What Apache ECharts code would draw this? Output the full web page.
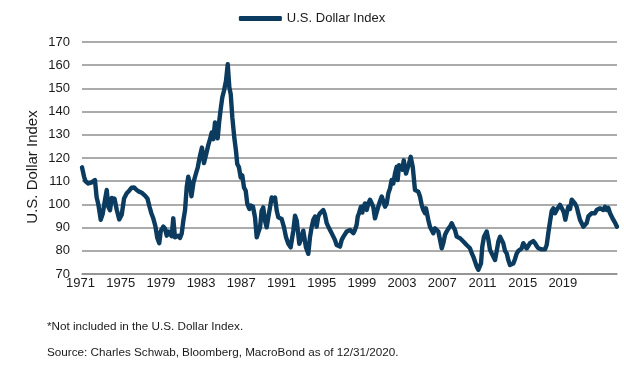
<!DOCTYPE html>
<html><head><meta charset="utf-8">
<script src="https://cdn.jsdelivr.net/npm/echarts@6/dist/echarts.min.js"></script>
<style>html,body{margin:0;padding:0;background:#fff}#c{width:624px;height:367px}</style>
</head><body><div id="c"></div>
<script>
const seriesName = 'U.S. Dollar Index';
const yAxisName = 'U.S. Dollar Index';
const footnote1 = '*Not included in the U.S. Dollar Index.';
const footnote2 = 'Source: Charles Schwab, Bloomberg, MacroBond as of 12/31/2020.';
const yearLabels = ['1971','1975','1979','1983','1987','1991','1995','1999','2003','2007','2011','2015','2019'];

const usd1971to1981 = [[1971.0,116],[1971.19,112],[1971.33,110],[1971.59,109],[1971.91,109.5],[1972.21,110.5],[1972.37,103],[1972.52,100.2],[1972.75,93.4],[1972.93,95.8],
[1973.15,102],[1973.31,106.2],[1973.46,99],[1973.62,97.5],[1973.78,102.8],[1973.93,101.5],[1974.04,102.5],[1974.24,97.8],[1974.48,93.5],[1974.71,95.5],
[1974.93,102.5],[1975.18,104.8],[1975.39,105.8],[1975.64,107.2],[1975.86,107.3],[1976.11,106.2],[1976.33,105.5],[1976.58,105],[1976.89,103.8],[1977.12,102.5],
[1977.31,99],[1977.48,96.2],[1977.66,94],[1977.85,90.8],[1978.04,85.5],[1978.22,83.3],[1978.36,88.5],[1978.60,90.4],[1978.76,89.5],[1978.92,86.5],
[1979.07,88.3],[1979.22,87.5],[1979.38,86.3],[1979.53,94],[1979.69,85.8],[1979.85,85.6],[1980.00,86.5],[1980.16,85.5],[1980.32,87.5],[1980.47,93],
[1980.63,97.5],[1980.79,107.6],[1980.93,111.9],[1981.09,109],[1981.23,103.5],[1981.42,109.5],[1981.63,113],[1981.82,116]];

const usd1982to1995 = [[1982.03,121],[1982.21,124.5],[1982.40,117.8],[1982.62,122],[1982.80,125.5],[1982.96,128],[1983.12,131],[1983.27,128.1],[1983.43,135.3],[1983.59,136],
[1983.68,128.5],[1983.83,136],[1983.96,141],[1984.11,146.1],[1984.27,149],[1984.46,153.3],[1984.62,160.4],[1984.77,150.4],[1984.90,147.5],[1985.05,137.5],
[1985.23,128.9],[1985.39,123.1],[1985.51,117.4],[1985.67,116],[1985.83,111.6],[1985.98,112.5],[1986.14,107.3],[1986.30,105.9],[1986.45,100.2],[1986.64,98],
[1986.79,99.5],[1986.98,99],[1987.17,94.4],[1987.33,85.8],[1987.48,88],[1987.64,90.1],[1987.79,97.3],[1987.94,98.7],[1988.10,93],[1988.26,90.1],
[1988.41,94.4],[1988.57,98.7],[1988.73,103],[1988.88,101.5],[1989.04,103],[1989.20,97.3],[1989.35,94.4],[1989.50,94],[1989.66,93.7],[1989.88,90.1],
[1990.07,85.8],[1990.28,83],[1990.50,81.5],[1990.75,88.7],[1990.91,95.1],[1991.07,93],[1991.31,83],[1991.53,85.8],[1991.68,88.7],[1991.93,81.5],
[1992.15,78.7],[1992.31,86],[1992.47,90.4],[1992.62,93.4],[1992.78,94.8],[1992.93,90.4],[1993.08,94.8],[1993.24,96.2],[1993.40,96.5],[1993.55,97.6],
[1993.71,95.5],[1993.87,91.9],[1994.02,90.4],[1994.18,89],[1994.34,87.5],[1994.49,86.1],[1994.64,84.7],[1994.80,82.5],[1994.95,81.8],[1995.11,81.8],
[1995.27,84.7],[1995.42,86]];

const usd1995to2008 = [[1995.58,86.1],[1995.74,88.3],[1995.89,87.6],[1996.05,89],[1996.21,88.3],[1996.36,87.6],[1996.51,89],[1996.67,91.2],[1996.77,94.8],[1996.89,96.2],
[1997.07,99],[1997.20,96.5],[1997.29,99],[1997.45,100.4],[1997.61,97.6],[1997.76,100.4],[1997.92,102],[1998.07,101.4],[1998.22,99],[1998.38,94],
[1998.54,94.7],[1998.69,99],[1998.85,101.4],[1999.01,103.4],[1999.16,101.4],[1999.32,99],[1999.48,100.4],[1999.63,104.8],[1999.79,106.9],[1999.94,110.5],
[2000.09,109],[2000.25,113.3],[2000.41,116.2],[2000.50,110.5],[2000.63,116.9],[2000.81,117.6],[2000.93,115],[2001.07,119],[2001.19,119.8],[2001.28,113.3],
[2001.44,114],[2001.56,117.6],[2001.72,120.5],[2001.81,119.8],[2001.91,116.2],[2002.03,110.5],[2002.12,106.2],[2002.28,106.2],[2002.43,105.5],[2002.59,103.4],
[2002.75,99.7],[2002.90,97.6],[2003.06,96.2],[2003.15,98.3],[2003.27,97.6],[2003.36,93.4],[2003.52,90.4],[2003.68,90.4],[2003.83,87.6],[2003.99,89.7],
[2004.15,89],[2004.30,88.3],[2004.46,84.7],[2004.62,81.1],[2004.77,83.3],[2004.93,86.9],[2005.08,88.3],[2005.23,89.5],[2005.39,90.4],[2005.55,91.9],
[2005.70,90.4],[2005.86,89],[2006.02,86.1],[2006.17,86.1],[2006.33,85.4],[2006.49,85.4],[2006.64,84],[2006.79,84],[2006.95,82.5],[2007.10,81.8],
[2007.26,81.1],[2007.42,79],[2007.57,77.5],[2007.73,75.4],[2007.89,73.2],[2008.04,71.8],[2008.20,71.8],[2008.29,74.6],[2008.41,81.8],[2008.57,86.1]];

const usd2008to2020 = [[2008.66,86.7],[2008.82,88.3],[2008.97,85],[2009.13,80.4],[2009.29,78.9],[2009.44,77.5],[2009.60,76],[2009.76,80],[2009.91,84],[2010.07,86.1],
[2010.22,86.8],[2010.37,83.3],[2010.53,80],[2010.69,78.9],[2010.84,76],[2011.00,73.9],[2011.16,73.2],[2011.31,74.5],[2011.47,76.5],[2011.63,78.9],
[2011.79,80],[2011.93,80.4],[2012.09,81],[2012.24,83.3],[2012.40,82.5],[2012.56,81],[2012.71,81.5],[2012.87,83.3],[2013.03,82.5],[2013.18,84.2],
[2013.34,83.3],[2013.50,82],[2013.65,81.1],[2013.80,80.8],[2013.96,80.6],[2014.11,80.4],[2014.27,80.6],[2014.43,82.5],[2014.58,87.6],[2014.74,92.6],
[2014.90,97.2],[2015.05,98.3],[2015.21,96.2],[2015.36,97.6],[2015.51,97],[2015.67,99.8],[2015.77,100.4],[2015.93,97.6],[2016.05,96.2],[2016.17,93.4],
[2016.30,96.2],[2016.45,99],[2016.61,98],[2016.77,102],[2016.92,102.6],[2017.07,100.4],[2017.23,99],[2017.38,96.2],[2017.54,93.4],[2017.70,94.2],
[2017.85,90.4],[2018.01,89.7],[2018.17,92],[2018.32,94.8],[2018.48,95.5],[2018.64,96.2],[2018.79,96.5],[2018.94,96.2],[2019.10,97.6],[2019.25,97],
[2019.41,98.3],[2019.57,99],[2019.72,97.6],[2019.88,99],[2020.04,97.6],[2020.19,98.5],[2020.35,96.2],[2020.50,96.2],[2020.65,93.4],[2020.75,94],
[2020.84,91.9],[2021.0,90.4]];

const usdIndex = [].concat(usd1971to1981, usd1982to1995, usd1995to2008, usd2008to2020);

const FONT = '"Liberation Sans", Arial, sans-serif';
const lineColor = '#0b3b5e';
const gridColor = '#8f8f8f';

const chart = echarts.init(document.getElementById('c'), null, {renderer: 'canvas'});
chart.setOption({
  animation: false,
  legend: {
    data: [seriesName], top: 7, left: 'center',
    icon: 'roundRect', itemWidth: 43, itemHeight: 5,
    textStyle: {fontFamily: FONT, fontSize: 13, color: '#1a1a1a'}
  },
  grid: {left: 82, right: 7, top: 42, bottom: 93},
  xAxis: [{
    type: 'value', position: 'top', min: 1971, max: 2021, show: false
  }, {
    type: 'value', position: 'bottom', min: 0, max: 13.31, interval: 1,
    axisLine: {show: true, lineStyle: {color: gridColor, width: 1.5}},
    axisTick: {show: false}, splitLine: {show: false},
    axisLabel: {
      margin: 3, fontSize: 13, color: '#1a1a1a', fontFamily: FONT, padding: [0, 3, 0, 0],
      showMinLabel: true, showMaxLabel: false,
      formatter: function (v) { const i = Math.round(v); return (Math.abs(v - i) < 1e-6 && yearLabels[i]) ? yearLabels[i] : ''; }
    }
  }],
  yAxis: {
    type: 'value', min: 70, max: 170, interval: 10,
    axisLine: {show: false}, axisTick: {show: false},
    splitLine: {lineStyle: {color: gridColor, width: 1.5}},
    axisLabel: {margin: 12, fontSize: 13, color: '#1a1a1a', fontFamily: FONT}
  },
  series: [{
    name: seriesName, type: 'line', xAxisIndex: 0, data: usdIndex,
    showSymbol: false, symbol: 'none',
    lineStyle: {color: lineColor, width: 4.4, cap: 'round', join: 'round'},
    itemStyle: {color: lineColor}
  }],
  graphic: [
    {type: 'text', x: 33, y: 167, rotation: Math.PI / 2,
     style: {text: yAxisName, font: '15px ' + FONT, fill: '#1a1a1a', textAlign: 'center', textVerticalAlign: 'middle'}},
    {type: 'text', x: 47, y: 327,
     style: {text: footnote1, font: '11.7px ' + FONT, fill: '#1a1a1a', textAlign: 'left', textVerticalAlign: 'middle'}},
    {type: 'text', x: 47, y: 353,
     style: {text: footnote2, font: '11.7px ' + FONT, fill: '#1a1a1a', textAlign: 'left', textVerticalAlign: 'middle'}}
  ]
});
</script></body></html>
